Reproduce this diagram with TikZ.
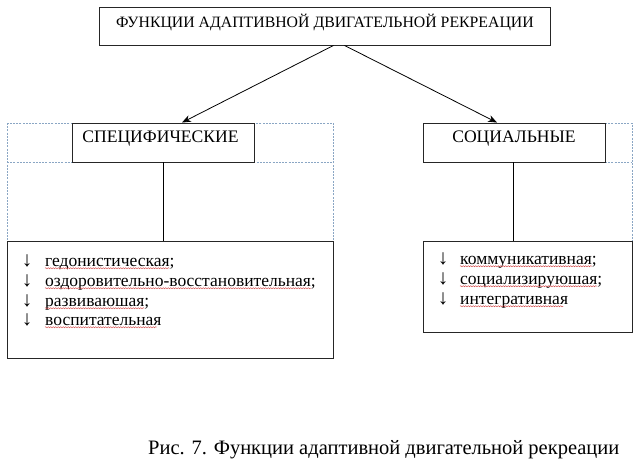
\documentclass[tikz,border=0pt]{standalone}
\usepackage{fontspec}
\setmainfont{Liberation Serif}
\usetikzlibrary{arrows.meta,decorations.pathmorphing}
\definecolor{dashblue}{HTML}{8AA6C4}
\definecolor{wavyred}{HTML}{D04040}
\tikzset{
  box/.style={draw=black!85, line width=0.9pt, fill=white, inner sep=0pt},
  lbl/.style={inner sep=0pt, font=\fontsize{17.6}{19}\selectfont},
  item/.style={inner sep=0pt, anchor=base west, font=\fontsize{17.5}{19}\selectfont},
  bullet/.style={inner sep=0pt, anchor=base, text height=12pt, text depth=0pt, font=\bfseries\fontsize{21}{21}\selectfont},
  guide/.style={draw=dashblue, line width=0.6pt, dash pattern=on 2pt off 1.2pt},
  arr/.style={draw=black, line width=0.8pt, -{Stealth[length=9pt,width=7pt]}},
  conn/.style={draw=black, line width=0.8pt},
  wavy/.style={draw=wavyred, line width=0.4pt, decorate, decoration={snake, segment length=2.5pt, amplitude=0.6pt}}
}
\begin{document}
\begin{tikzpicture}[x=1pt,y=-1pt]
\useasboundingbox[fill=white] (0,0) rectangle (640,460);
% dashed guides
\draw[guide] (7,123) rectangle (333,241);
\draw[guide] (7,162) -- (333,162);
\draw[guide] (605,123) -- (632,123) -- (632,241);
\draw[guide] (605,162) -- (632,162);
% boxes
\node[box, minimum width=451pt, minimum height=38pt] (top) at (324.5,26) {};
\node[lbl, font=\fontsize{15.8}{18}\selectfont] (toptext) at (325,22) {ФУНКЦИИ АДАПТИВНОЙ ДВИГАТЕЛЬНОЙ РЕКРЕАЦИИ};
\node[box, minimum width=182pt, minimum height=39pt] (spec) at (163,142.5) {};
\node[lbl] (spectext) at (160.5,139) {СПЕЦИФИЧЕСКИЕ};
\node[box, minimum width=182pt, minimum height=39pt] (soc) at (514,142.5) {};
\node[lbl] (soctext) at (514,139) {СОЦИАЛЬНЫЕ};
\node[box, minimum width=326pt, minimum height=117pt] (lbox) at (170,299.5) {};
\node[box, minimum width=209pt, minimum height=91pt] (rbox) at (527.5,286.5) {};
% connectors
\draw[arr] ([xshift=9pt]top.south) -- ([xshift=19pt]spec.north);
\draw[arr] ([xshift=20pt]top.south) -- ([xshift=-17pt]soc.north);
\draw[conn] (spec.south) -- (spec.south |- lbox.north);
\draw[conn] ([xshift=-1pt]soc.south) -- ([xshift=-1pt]soc.south |- rbox.north);
% left list
\node[bullet] (la1) at (27,266) {↓};
\node[item] (l1) at (45,266) {гедонистическая;};
\node[bullet] (la2) at (27,286) {↓};
\node[item] (l2) at (45,286) {оздоровительно-восстановительная;};
\node[bullet] (la3) at (27,306) {↓};
\node[item] (l3) at (45,306) {развиваюшая;};
\node[bullet] (la4) at (27,325) {↓};
\node[item] (l4) at (45,325) {воспитательная};
% right list
\node[bullet] (ra1) at (443,264) {↓};
\node[item] (r1) at (460,264) {коммуникативная;};
\node[bullet] (ra2) at (443,284) {↓};
\node[item] (r2) at (460,284) {социализируюшая;};
\node[bullet] (ra3) at (443,304) {↓};
\node[item] (r3) at (460,304) {интегративная};
% spell-check underlines
\foreach \n in {l1,l2,l3,l4,r1,r2,r3}{
  \draw[wavy] ([yshift=-2.2pt]\n.base west) -- ([yshift=-2.2pt,xshift=-5pt]\n.base east);
}
% caption
\node[inner sep=0pt, anchor=base west, font=\fontsize{20.5}{23}\selectfont] (caption) at (148,454) {Рис. 7. Функции адаптивной двигательной рекреации};
\end{tikzpicture}
\end{document}
